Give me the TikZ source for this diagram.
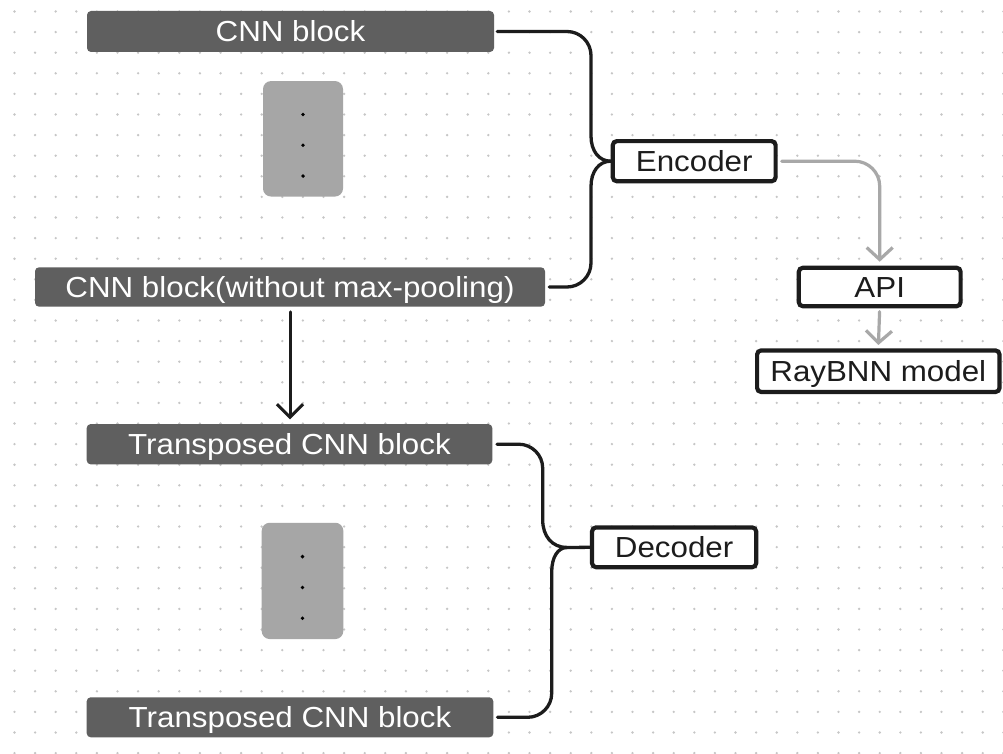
\documentclass[tikz,border=0pt]{standalone}
\usepackage{fontspec}
\setmainfont{Liberation Sans}[FakeStretch=1.08]
\usetikzlibrary{arrows.meta,calc}
\definecolor{blockdark}{HTML}{5F5F5F}
\definecolor{blockpale}{HTML}{A6A6A6}
\definecolor{griddot}{HTML}{C6C6C6}
\definecolor{inkblack}{HTML}{1C1C1C}
\definecolor{flowgray}{HTML}{A8A8A8}
\begin{document}
\begin{tikzpicture}[x=1pt,y=-1pt,
  labelfont/.style={font=\fontsize{29}{34}\selectfont, text height=20.8pt, text depth=0pt, inner sep=0pt},
  darkblock/.style={rectangle, rounded corners=4pt, fill=blockdark, text=white, labelfont},
  paleblock/.style={rectangle, rounded corners=8pt, fill=blockpale, inner sep=0pt},
  labelbox/.style={rectangle, rounded corners=4pt, draw=inkblack, line width=4.2pt, fill=white, text=inkblack, labelfont},
  brace/.style={draw=inkblack, line width=3.3pt, line cap=round, line join=round},
  flow/.style={draw=flowgray, line width=3.2pt, line cap=round, line join=round, -{Straight Barb[length=12pt,width=26pt]}},
  downflow/.style={draw=inkblack, line width=3pt, line cap=round, line join=round, -{Straight Barb[length=13pt,width=26pt]}},
]
\useasboundingbox (0,0) rectangle (1003,754);
\fill[white] (0,0) rectangle (1003,754);

% dotted canvas grid
\foreach \i in {0,...,48}
  \foreach \j in {0,...,36}
    \fill[griddot] ({14.5+20.6*\i},{11.5+20.6*\j}) circle[radius=1.3pt];

% encoder stack
\node[darkblock, minimum width=407pt, minimum height=41pt] (cnn1) at (290.5,31.5) {CNN block};
\node[paleblock, minimum width=80pt, minimum height=115.5pt] (pale1) at (303,138.8) {};
\node[darkblock, minimum width=510pt, minimum height=39.4pt] (cnn2) at (290,287) {CNN block(without max-pooling)};

% decoder stack
\node[darkblock, minimum width=405.6pt, minimum height=40.3pt] (tr1) at (289.5,444.2) {Transposed CNN block};
\node[paleblock, minimum width=81.6pt, minimum height=116.3pt] (pale2) at (302.5,580.9) {};
\node[darkblock, minimum width=406.6pt, minimum height=40pt] (tr2) at (290,717.3) {Transposed CNN block};

% vertical ellipsis inside the placeholder blocks
\foreach \n in {pale1,pale2}
  \foreach \dy in {-24.3,6.5,37.3}
    \fill[black] ($(\n.center)+(0,\dy)$) circle[radius=1.9pt];

% labels
\node[labelbox, minimum width=162.8pt, minimum height=40.1pt] (enc) at (694.2,161.2) {Encoder};
\node[labelbox, minimum width=164.1pt, minimum height=39.8pt] (dec) at (674.1,547.3) {Decoder};
\node[labelbox, minimum width=161.8pt, minimum height=38.4pt] (api) at (879.7,287) {API};
\node[labelbox, minimum width=242.4pt, minimum height=41.5pt] (ray) at (878.3,371.2) {RayBNN model};

% encoder brace: two arms meeting at the label
\draw[brace] ([xshift=3pt]cnn1.east) -- (567,31.5)
  .. controls (580.2,31.5) and (591,42.3) .. (591,55.5) -- (591,136)
  .. controls (591,151) and (599,161.2) .. (enc.west);
\draw[brace] (enc.west) .. controls (599,161.2) and (591,171.4) .. (591,186.4)
  -- (591,263) .. controls (591,276.2) and (580.2,287) .. (567,287)
  -- ([xshift=4pt]cnn2.east);

% decoder brace: two arms meeting at a fork, then a stub to the label
\coordinate (decfork) at (567,547.5);
\draw[brace] ([xshift=4.5pt]tr1.east) -- (518.7,444.2)
  .. controls (531.9,444.2) and (542.7,455) .. (542.7,468.2) -- (542.7,520)
  .. controls (542.7,536) and (552,547.5) .. (decfork) -- (dec.west);
\draw[brace] (decfork) .. controls (558,547.5) and (551.7,557) .. (551.7,572)
  -- (551.7,693.3) .. controls (551.7,706.5) and (540.9,717.3) .. (527.7,717.3)
  -- ([xshift=4pt]tr2.east);

% data flow
\draw[downflow, shorten <=5pt, shorten >=4.5pt] (cnn2.south) -- (cnn2.south |- tr1.north);
\draw[flow, rounded corners=25pt, shorten <=4pt, shorten >=4pt] (enc.east) -| (api.north);
\draw[flow, shorten <=3.4pt, shorten >=3.4pt] (api.south) -- (ray.north);
\end{tikzpicture}
\end{document}
